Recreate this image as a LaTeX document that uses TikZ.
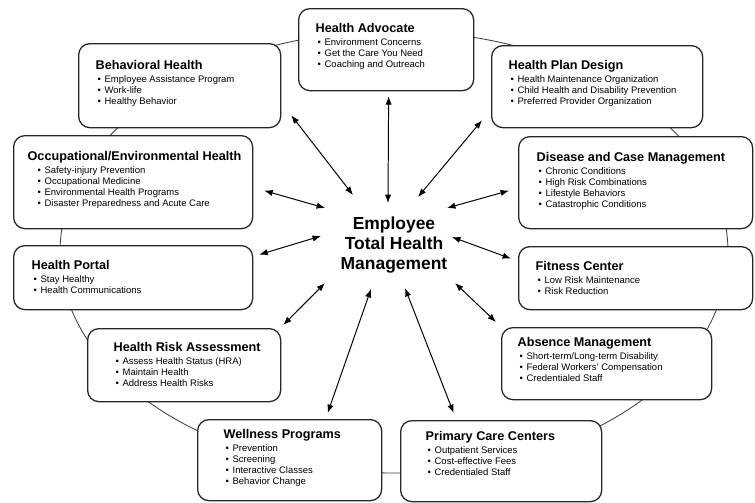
\documentclass[tikz,border=0pt]{standalone}
\usepackage{fontspec}
\setmainfont{Liberation Sans}
\usepackage{tikz}
\usetikzlibrary{positioning}
\usetikzlibrary{calc,arrows.meta}

\newlength{\pxu}
\setlength{\pxu}{0.025cm}
\newlength{\bulletind}
\setlength{\bulletind}{2\pxu}
\newcommand{\itm}[1]{\par\hspace*{\bulletind}\makebox[7\pxu][l]{\textbullet}#1}
\newcommand{\boxbody}[6]{%
\parbox[t][#2\pxu][t]{#1\pxu}{\setlength{\leftskip}{#3\pxu}\vspace*{#4\pxu}%
{\fontsize{9}{11}\selectfont\bfseries #5\par}\vspace{1.4pt}%
\fontsize{6.75}{7.8}\selectfont #6\par}}

\begin{document}
\begin{tikzpicture}[
x=0.025cm, y=-0.025cm,
infobox/.style={draw=black!85, fill=white, line width=0.9pt, rounded corners=8pt, anchor=north west, inner sep=0pt},
hubnode/.style={align=center, inner sep=0pt, font=\fontsize{12.4}{14.5}\selectfont\bfseries},
ring/.style={draw=black!75, line width=0.6pt},
twoway/.style={<->, line width=0.7pt},
>={Latex[length=6pt,width=4.5pt]},
]
\useasboundingbox (0,0) rectangle (755,502);
%Ring
\draw[ring] (394,252) ellipse [x radius=334, y radius=221];
%Nodes
\node[infobox]  (advocate)   at (298,8)   {\boxbody{175}{82}{17}{15}{Health Advocate}{\itm{Environment Concerns}\itm{Get the Care You Need}\itm{Coaching and Outreach}}};
\node[infobox]  (behavioral) at (78,43)   {\boxbody{202}{84}{17}{17}{Behavioral Health}{\itm{Employee Assistance Program}\itm{Work-life}\itm{Healthy Behavior}}};
\node[infobox]  (plan)       at (491,45)  {\boxbody{211}{82}{17}{15}{Health Plan Design}{\itm{Health Maintenance Organization}\itm{Child Health and Disability Prevention}\itm{Preferred Provider Organization}}};
\node[infobox]  (occupation) at (13,135)  {\boxbody{239}{93}{14}{16}{Occupational/Environmental Health}{\setlength{\bulletind}{10\pxu}\itm{Safety-injury Prevention}\itm{Occupational Medicine}\itm{Environmental Health Programs}\itm{Disaster Preparedness and Acute Care}}};
\node[infobox]  (disease)    at (518,136) {\boxbody{234}{92}{18}{16}{Disease and Case Management}{\itm{Chronic Conditions}\itm{High Risk Combinations}\itm{Lifestyle Behaviors}\itm{Catastrophic Conditions}}};
\node[infobox]  (portal)     at (13,245)  {\boxbody{239}{64}{18}{15}{Health Portal}{\itm{Stay Healthy}\itm{Health Communications}}};
\node[infobox]  (fitness)    at (518,246) {\boxbody{234}{63}{17}{15}{Fitness Center}{\itm{Low Risk Maintenance}\itm{Risk Reduction}}};
\node[infobox]  (risk)       at (87,328)  {\boxbody{193}{73}{26}{14}{Health Risk Assessment}{\itm{Assess Health Status (HRA)}\itm{Maintain Health}\itm{Address Health Risks}}};
\node[infobox]  (absence)    at (501,327) {\boxbody{210}{72}{16}{10}{Absence Management}{\itm{Short-term/Long-term Disability}\itm{Federal Workers' Compensation}\itm{Credentialed Staff}}};
\node[infobox]  (wellness)   at (197,419) {\boxbody{184}{81}{26}{10}{Wellness Programs}{\itm{Prevention}\itm{Screening}\itm{Interactive Classes}\itm{Behavior Change}}};
\node[infobox]  (primary)    at (400,420) {\boxbody{201}{81}{25}{11}{Primary Care Centers}{\itm{Outpatient Services}\itm{Cost-effective Fees}\itm{Credentialed Staff}}};
\node[hubnode]  (hub)        at (394,245) {Employee\\Total Health\\Management};
%Lines
\draw[twoway] ($(hub)+(-6,-42)$)  -- ($(advocate.south)+(2.5,5)$);
\draw[twoway] ($(hub)+(-41,-50)$) -- ($(behavioral.south east)+(10,-13)$);
\draw[twoway] ($(hub)+(24,-48)$)  -- ($(plan.south west)+(-9,-8)$);
\draw[twoway] ($(hub)+(-69,-37)$) -- ($(occupation.east)+(11,8.5)$);
\draw[twoway] ($(hub)+(53,-37)$)  -- ($(disease.west)+(-9,8)$);
\draw[twoway] ($(hub)+(-73,-9)$)  -- ($(portal.east)+(6,-23)$);
\draw[twoway] ($(hub)+(58,-8)$)   -- ($(fitness.west)+(-7,-19.5)$);
\draw[twoway] ($(hub)+(-69,38)$)  -- ($(risk.north east)+(2,-3)$);
\draw[twoway] ($(hub)+(61,38)$)   -- ($(absence.north west)+(-5,-5)$);
\draw[twoway] ($(hub)+(-23,44)$)  -- ($(wellness.north)+(38,-6)$);
\draw[twoway] ($(hub)+(11,43)$)   -- ($(primary.north)+(-47.5,-7)$);
\end{tikzpicture}
\end{document}
